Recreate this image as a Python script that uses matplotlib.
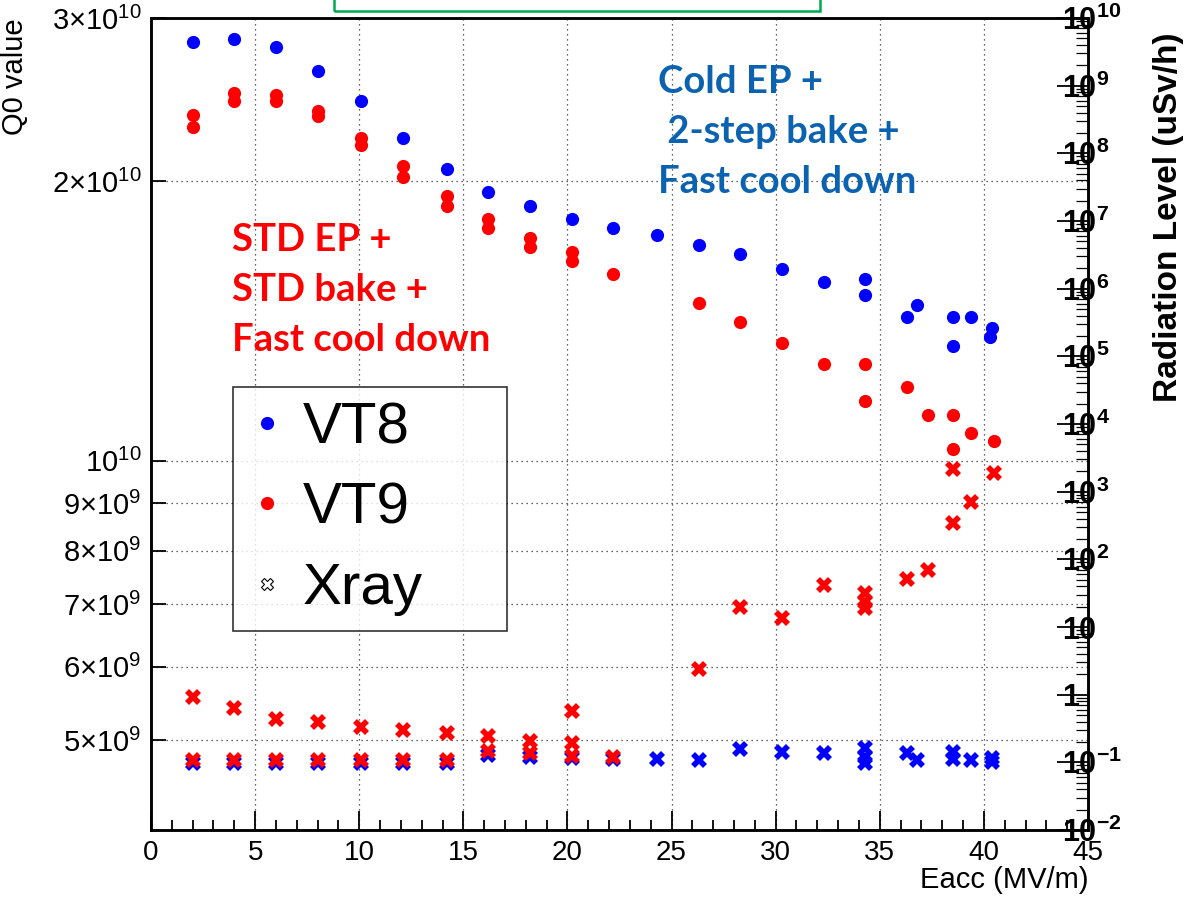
import matplotlib
matplotlib.use("Agg")
import matplotlib.pyplot as plt
from matplotlib.lines import Line2D
from matplotlib.patches import Rectangle
from matplotlib.ticker import FixedLocator, MultipleLocator, NullLocator, LogLocator

plt.rcParams['font.family'] = ['Liberation Sans', 'DejaVu Sans']
plt.rcParams['mathtext.fontset'] = 'custom'
plt.rcParams['mathtext.rm'] = 'Liberation Sans'
plt.rcParams['mathtext.bf'] = 'Liberation Sans:bold'
plt.rcParams['mathtext.it'] = 'Liberation Sans:italic'

# ---- data ----
# Q0 (left axis)
vt8_q_eacc = [2, 4, 6, 8, 10.1, 12.1, 14.2, 16.2, 18.2, 20.2, 22.2, 24.3, 26.3, 28.3,
              30.3, 32.3, 34.3, 34.3, 36.3, 36.8, 38.5, 38.5, 39.4, 40.4, 40.3]
vt8_q0 = [2.83e10, 2.85e10, 2.79e10, 2.63e10, 2.44e10, 2.23e10, 2.06e10, 1.95e10,
          1.88e10, 1.82e10, 1.78e10, 1.75e10, 1.71e10, 1.67e10, 1.61e10, 1.56e10,
          1.57e10, 1.51e10, 1.43e10, 1.47e10, 1.43e10, 1.33e10, 1.43e10, 1.39e10, 1.36e10]

vt9_q_eacc = [2, 2, 4, 4, 6, 6, 8, 8, 10.1, 10.1, 12.1, 12.1, 14.2, 14.2, 16.2, 16.2,
              18.2, 18.2, 20.2, 20.2, 22.2, 26.3, 28.3, 30.3, 32.3, 34.3, 34.3, 36.3,
              37.3, 38.5, 38.5, 39.4, 40.5]
vt9_q0 = [2.36e10, 2.29e10, 2.49e10, 2.44e10, 2.48e10, 2.44e10, 2.38e10, 2.35e10,
          2.23e10, 2.19e10, 2.08e10, 2.02e10, 1.93e10, 1.88e10, 1.82e10, 1.78e10,
          1.74e10, 1.70e10, 1.68e10, 1.64e10, 1.59e10, 1.48e10, 1.41e10, 1.34e10,
          1.27e10, 1.27e10, 1.16e10, 1.20e10, 1.12e10, 1.12e10, 1.03e10, 1.07e10, 1.05e10]

# radiation (right axis, uSv/h)
vt8_x_eacc = [2, 4, 6, 8, 10.1, 12.1, 14.2, 16.2, 18.2, 20.2, 22.2, 24.3, 26.3, 28.3,
              30.3, 32.3, 34.3, 34.3, 34.3, 36.3, 36.8, 38.5, 38.5, 39.4, 40.4, 40.4]
vt8_xray = [0.098, 0.098, 0.098, 0.098, 0.098, 0.098, 0.098, 0.13, 0.12, 0.116, 0.112,
            0.112, 0.108, 0.157, 0.142, 0.137, 0.163, 0.120, 0.098, 0.137, 0.108,
            0.142, 0.112, 0.108, 0.116, 0.101]

vt9_x_eacc = [2, 2, 4, 4, 6, 6, 8, 8, 10.1, 10.1, 12.1, 12.1, 14.2, 14.2, 16.2, 16.2,
              18.2, 18.2, 20.2, 20.2, 20.2, 22.2, 26.3, 28.3, 30.3, 32.3, 34.3, 34.3,
              34.3, 36.3, 37.3, 38.5, 38.5, 39.4, 40.5]
vt9_xray = [0.93, 0.11, 0.64, 0.11, 0.44, 0.11, 0.40, 0.11, 0.33, 0.11, 0.30, 0.11,
            0.27, 0.11, 0.245, 0.147, 0.207, 0.137, 0.574, 0.193, 0.124, 0.12, 2.4,
            19.8, 13.6, 41.8, 31.8, 23.4, 19.1, 51, 70, 344, 2160, 705, 1890]

q_ticks = [5e9, 6e9, 7e9, 8e9, 9e9, 1e10, 2e10, 3e10]
q_labels = [r'$5{\times}10^{9}$', r'$6{\times}10^{9}$', r'$7{\times}10^{9}$',
            r'$8{\times}10^{9}$', r'$9{\times}10^{9}$', r'$10^{10}$',
            r'$2{\times}10^{10}$', r'$3{\times}10^{10}$']
r_ticks = [10.0 ** k for k in range(-2, 11)]
r_labels = [r'$\mathbf{10^{-2}}$', r'$\mathbf{10^{-1}}$', r'$\mathbf{1}$', r'$\mathbf{10}$'] + \
           [r'$\mathbf{10^{%d}}$' % k for k in range(2, 11)]

W, H = 1185, 898
fig = plt.figure(figsize=(W / 100, H / 100), dpi=100)
ax = fig.add_axes([151 / W, 1 - 830 / H, (1088 - 151) / W, (830 - 18) / H])
ax2 = ax.twinx()

ax.plot(vt8_q_eacc, vt8_q0, 'o', color='blue', ms=9.5, mew=0, zorder=3)
ax.plot(vt9_q_eacc, vt9_q0, 'o', color='red', ms=9.5, mew=0, zorder=3)
ax2.plot(vt8_x_eacc, vt8_xray, 'X', color='blue', ms=11, mew=0, zorder=3)
ax2.plot(vt9_x_eacc, vt9_xray, 'X', color='red', ms=11, mew=0, zorder=4)

ax.set_xlim(0, 45)
ax.set_yscale('log')
ax.set_ylim(4e9, 3e10)
ax2.set_yscale('log')
ax2.set_ylim(1e-2, 1e10)

ax.xaxis.set_major_locator(MultipleLocator(5))
ax.xaxis.set_minor_locator(MultipleLocator(1))
ax.yaxis.set_major_locator(FixedLocator(q_ticks))
ax.yaxis.set_minor_locator(NullLocator())
ax.set_yticklabels(q_labels)
ax2.yaxis.set_major_locator(FixedLocator(r_ticks))
ax2.set_yticklabels(r_labels)
ax2.yaxis.set_minor_locator(LogLocator(base=10, subs=range(2, 10), numticks=50))

ax.tick_params(axis='x', which='major', direction='in', length=14, width=1.3, labelsize=20, pad=7)
ax.tick_params(axis='x', which='minor', direction='in', length=7, width=1.3)
ax.tick_params(axis='y', which='major', direction='in', length=11, width=1.3, labelsize=21, pad=7)
ax2.tick_params(axis='y', which='major', direction='in', length=22, width=1.3, labelsize=22, pad=-19)
ax2.tick_params(axis='y', which='minor', direction='in', length=9, width=0.9)

ax.grid(True, which='major', linestyle=(0, (1, 3)), color='#333333', linewidth=0.9)
for s in ax.spines.values():
    s.set_linewidth(1.8)
for s in ax2.spines.values():
    s.set_linewidth(1.8)

ax.set_xlabel('Eacc (MV/m)', fontsize=21, loc='right', labelpad=0)
ax.set_ylabel('Q0 value', fontsize=21, loc='top', labelpad=16)
ax2.set_ylabel('Radiation Level (uSv/h)', fontsize=24, fontweight='bold')
ax2.yaxis.set_label_coords(1 + (1153 - 1088) / 937, 0.755)

handles = [Line2D([], [], marker='o', color='blue', ls='none', ms=9.5, mew=0),
           Line2D([], [], marker='o', color='red', ls='none', ms=9.5, mew=0),
           Line2D([], [], marker='X', mfc='none', mec='black', ls='none', ms=9, mew=0.8)]
leg = ax.legend(handles, ['VT8', 'VT9', 'Xray'], loc='upper left',
                bbox_to_anchor=(233 / W, 1 - 628 / H, (507 - 233) / W, (628 - 387) / H),
                bbox_transform=fig.transFigure, mode='expand',
                fontsize=42, frameon=True, fancybox=False, borderaxespad=0,
                handletextpad=0.3, labelspacing=0.45, borderpad=0.25, handlelength=0.65)
leg.get_frame().set_edgecolor('black')
leg.get_frame().set_linewidth(1.2)
leg.set_zorder(10)

red_lines = ['STD EP +', 'STD bake +', 'Fast cool down']
blue_lines = ['Cold EP +', ' 2-step bake +', 'Fast cool down']
for i, t in enumerate(red_lines):
    fig.text(232 / W, 1 - (240 + 50 * i) / H, t, color='red', fontsize=27.5,
             fontweight='bold', family='Lato', va='center', ha='left')
for i, t in enumerate(blue_lines):
    fig.text(658 / W, 1 - (82 + 50 * i) / H, t, color='#0B62B0', fontsize=27.5,
             fontweight='bold', family='Lato', va='center', ha='left')

fig.add_artist(Rectangle((334 / W, 1 - 11 / H), (820 - 334) / W, 0.05,
                         transform=fig.transFigure, fill=False, edgecolor='#00A850',
                         linewidth=1.8, clip_on=False))

fig.savefig('out.png', dpi=100)
